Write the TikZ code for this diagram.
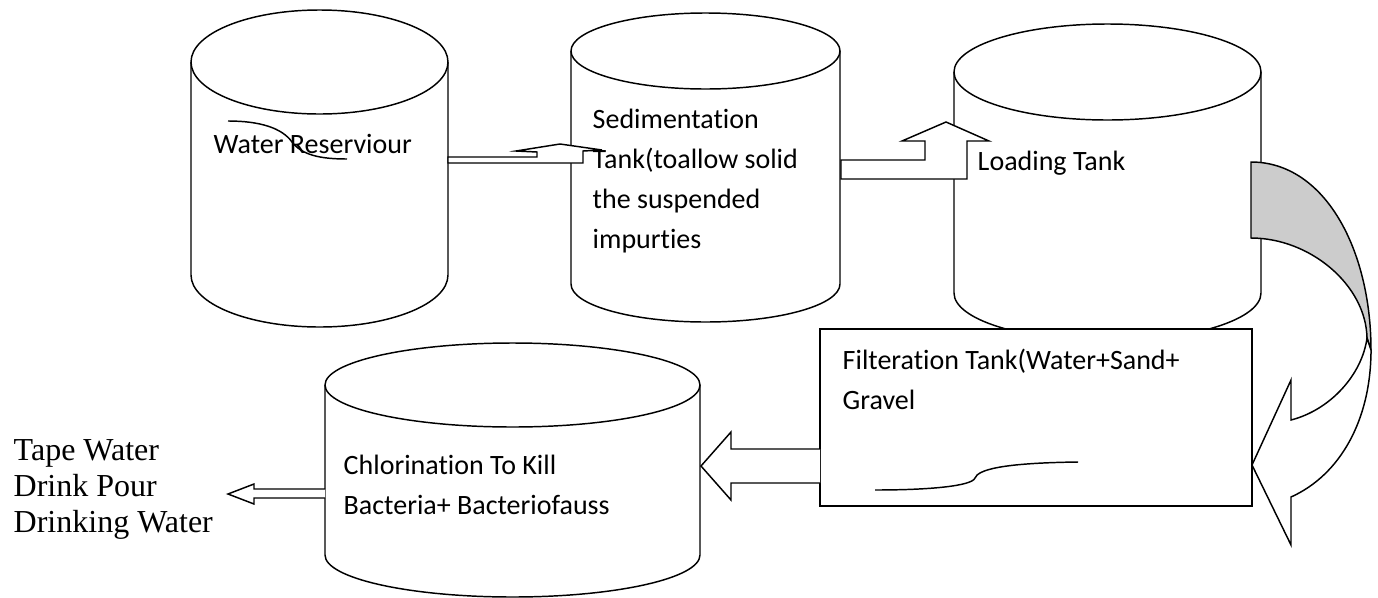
\documentclass[tikz,border=0pt]{standalone}
\usepackage{fontspec}
\setmainfont{Carlito}[Ligatures=CommonOff]
\newfontfamily\timesfont{Liberation Serif}
% centre x, half width, top y, bottom y, y radius
\newcommand{\drawtank}[5]{%
\fill[white] (#1-#2,#3) -- (#1-#2,#4) arc[start angle=180,end angle=0,x radius=#2,y radius=#5] -- (#1+#2,#3) -- cycle;
\draw (#1-#2,#3) -- (#1-#2,#4) arc[start angle=180,end angle=0,x radius=#2,y radius=#5] -- (#1+#2,#3);
\draw (#1,#3) ellipse [x radius=#2,y radius=#5];
}
\begin{document}
\begin{tikzpicture}[x=0.75pt,y=-0.75pt,line width=1.1pt,
  tanktext/.style={anchor=base west,inner sep=0pt,align=left,font=\fontsize{21}{30}\selectfont},
  blockarrow/.style={draw,fill=white}]
\useasboundingbox (0,0) rectangle (1378,597);
% tanks
\drawtank{319.5}{128.5}{62}{275}{52}
\drawtank{705.5}{134.5}{51}{284}{38}
\drawtank{1107.5}{153.5}{72}{293}{48}
\drawtank{512.5}{187.5}{385}{555}{42}
% filter box
\draw[fill=white] (820,329) rectangle (1252,506);
% arrows
\draw[blockarrow] (448,157) -- (537,157) -- (537,152) -- (516,151) -- (560,144) -- (602,150)
  -- (583,151) -- (583,163) -- (448,163) -- cycle;
\draw[blockarrow] (841,160) -- (925,160) -- (925,141) -- (902,141) -- (946,122) -- (989,141)
  -- (967,141) -- (967,179) -- (841,179) -- cycle;
\draw[fill=black!20] (1251,162) .. controls (1325,162) and (1371,250) .. (1371,350)
  -- (1367,338) .. controls (1366,285) and (1310,238) .. (1251,238) -- cycle;
\draw[blockarrow] (1367,338) .. controls (1362,375) and (1330,410) .. (1291,420) -- (1291,380)
  -- (1252,465) -- (1291,545) -- (1291,497) .. controls (1340,475) and (1371,420) .. (1371,350) -- cycle;
\draw[blockarrow] (820,449) -- (731,449) -- (731,432) -- (701,466) -- (731,500) -- (731,483)
  -- (820,483);
\draw[blockarrow] (325,489) -- (254,489) -- (254,484) -- (228,494) -- (254,504) -- (254,498)
  -- (325,498);
% squiggles
\draw (228,121) .. controls (260,121) and (282,128) .. (292,142) .. controls (302,155) and (320,159) .. (347,159);
\draw (875,490) .. controls (930,490) and (972,486) .. (975,478) .. controls (978,470) and (1000,463) .. (1078,462);
% texts (base = last line)
\node[tanktext] (reservoir) at (213,153) {Water Reserviour};
\node[tanktext] (sediment) at (592,248) {Sedimentation\\Tank(toallow solid\\the suspended\\impurties};
\node[tanktext] (loading) at (977,170) {Loading Tank};
\node[tanktext] (filter) at (842,409) {Filteration Tank(Water+Sand+\\Gravel};
\node[tanktext] (chlorine) at (343,514) {Chlorination To Kill\\Bacteria+ Bacteriofauss};
\node[tanktext,font=\timesfont\fontsize{24}{27}\selectfont] (drink) at (13,532) {Tape Water\\Drink Pour\\Drinking Water};
\end{tikzpicture}
\end{document}
